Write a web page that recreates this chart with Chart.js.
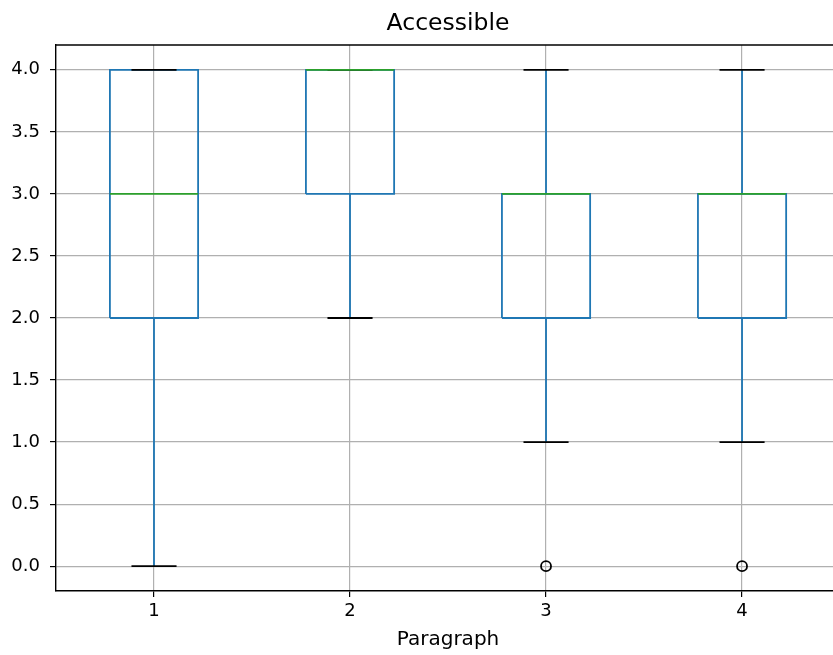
<!DOCTYPE html>
<html>
<head>
<meta charset="utf-8">
<script src="https://cdn.jsdelivr.net/npm/chart.js@4.4.1/dist/chart.umd.min.js"></script>
<style>
    body { margin: 0; background: #fff; }
</style>
</head>
<body>
<canvas id="chart" width="833" height="655"></canvas>
<script>
// box plot values
const categories = ['1', '2', '3', '4'];
const positions = [1, 2, 3, 4];
const q1 = [2, 3, 2, 2];
const medians = [3, 4, 3, 3];
const q3 = [4, 4, 3, 3];
const whiskerLow = [0, 2, 1, 1];
const whiskerHigh = [4, 4, 4, 4];
const outliers = [[], [], [0], [0]];
const yTicks = [0, 0.5, 1, 1.5, 2, 2.5, 3, 3.5, 4];

const BLUE = '#1f77b4';
const GREEN = '#2ca02c';
const BOX_HALF = 0.225;
const CAP_HALF = 0.115;

function line(points, color, order) {
    return {
        data: points,
        showLine: true,
        borderColor: color,
        borderWidth: 1.8,
        pointRadius: 0,
        fill: false,
        order: order
    };
}

var datasets = [];
for (var i = 0; i < positions.length; i++) {
    var x = positions[i];
    // box
    datasets.push(line([
        {x: x - BOX_HALF, y: q1[i]}, {x: x + BOX_HALF, y: q1[i]},
        {x: x + BOX_HALF, y: q3[i]}, {x: x - BOX_HALF, y: q3[i]},
        {x: x - BOX_HALF, y: q1[i]}
    ], BLUE, 5));
    // whiskers
    datasets.push(line([{x: x, y: q1[i]}, {x: x, y: whiskerLow[i]}], BLUE, 4));
    datasets.push(line([{x: x, y: q3[i]}, {x: x, y: whiskerHigh[i]}], BLUE, 4));
    // caps
    datasets.push(line([{x: x - CAP_HALF, y: whiskerLow[i]}, {x: x + CAP_HALF, y: whiskerLow[i]}], '#000', 3));
    datasets.push(line([{x: x - CAP_HALF, y: whiskerHigh[i]}, {x: x + CAP_HALF, y: whiskerHigh[i]}], '#000', 3));
    // median
    datasets.push(line([{x: x - BOX_HALF, y: medians[i]}, {x: x + BOX_HALF, y: medians[i]}], GREEN, 2));
}

var fliers = [];
for (var i = 0; i < positions.length; i++) {
    outliers[i].forEach(function (v) { fliers.push({x: positions[i], y: v}); });
}
datasets.push({
    data: fliers,
    showLine: false,
    pointRadius: 5,
    pointBorderWidth: 1.8,
    pointBorderColor: '#000',
    pointBackgroundColor: 'rgba(0,0,0,0)',
    order: 1
});

// title, x label and top spine
const decorations = {
    id: 'decorations',
    afterDatasetsDraw(chart) {
        const ctx = chart.ctx;
        const area = chart.chartArea;
        const xs = chart.scales.x;
        const mid = (xs.getPixelForValue(0.5) + xs.getPixelForValue(4.5)) / 2;
        ctx.save();
        ctx.strokeStyle = '#000';
        ctx.lineWidth = 1.4;
        ctx.beginPath();
        ctx.moveTo(area.left, area.top);
        ctx.lineTo(chart.width, area.top);
        ctx.stroke();
        ctx.fillStyle = '#000';
        ctx.textAlign = 'center';
        ctx.textBaseline = 'alphabetic';
        ctx.font = '23.5px "DejaVu Sans"';
        ctx.fillText('Accessible', mid, 30);
        ctx.font = '20px "DejaVu Sans"';
        ctx.fillText('Paragraph', mid, 645);
        ctx.restore();
    }
};

new Chart(document.getElementById('chart'), {
    type: 'scatter',
    data: { datasets: datasets },
    options: {
        responsive: false,
        animation: false,
        layout: { autoPadding: false, padding: { top: 45, left: 0, right: 0, bottom: 0 } },
        plugins: {
            legend: { display: false },
            tooltip: { enabled: false }
        },
        scales: {
            x: {
                type: 'linear',
                min: 0.5,
                max: 4.464,
                afterBuildTicks: function (s) { s.ticks = positions.map(function (p) { return {value: p}; }); },
                afterFit: function (s) { s.height = 64; s.paddingLeft = 0; s.paddingRight = 0; },
                ticks: {
                    color: '#000',
                    font: { family: 'DejaVu Sans', size: 18 },
                    padding: 4,
                    callback: function (v) { return categories[positions.indexOf(v)]; }
                },
                grid: { color: '#b0b0b0', lineWidth: 1.2, tickColor: '#000', tickLength: 6 },
                border: { color: '#000', width: 1.4 }
            },
            y: {
                min: -0.2,
                max: 4.2,
                afterBuildTicks: function (s) { s.ticks = yTicks.map(function (t) { return {value: t}; }); },
                afterFit: function (s) { s.width = 56; s.paddingTop = 0; s.paddingBottom = 0; },
                ticks: {
                    color: '#000',
                    font: { family: 'DejaVu Sans', size: 18 },
                    padding: 10,
                    callback: function (v) { return v.toFixed(1); }
                },
                grid: { color: '#b0b0b0', lineWidth: 1.2, tickColor: '#000', tickLength: 6 },
                border: { color: '#000', width: 1.4 }
            }
        }
    },
    plugins: [decorations]
});
</script>
</body>
</html>
